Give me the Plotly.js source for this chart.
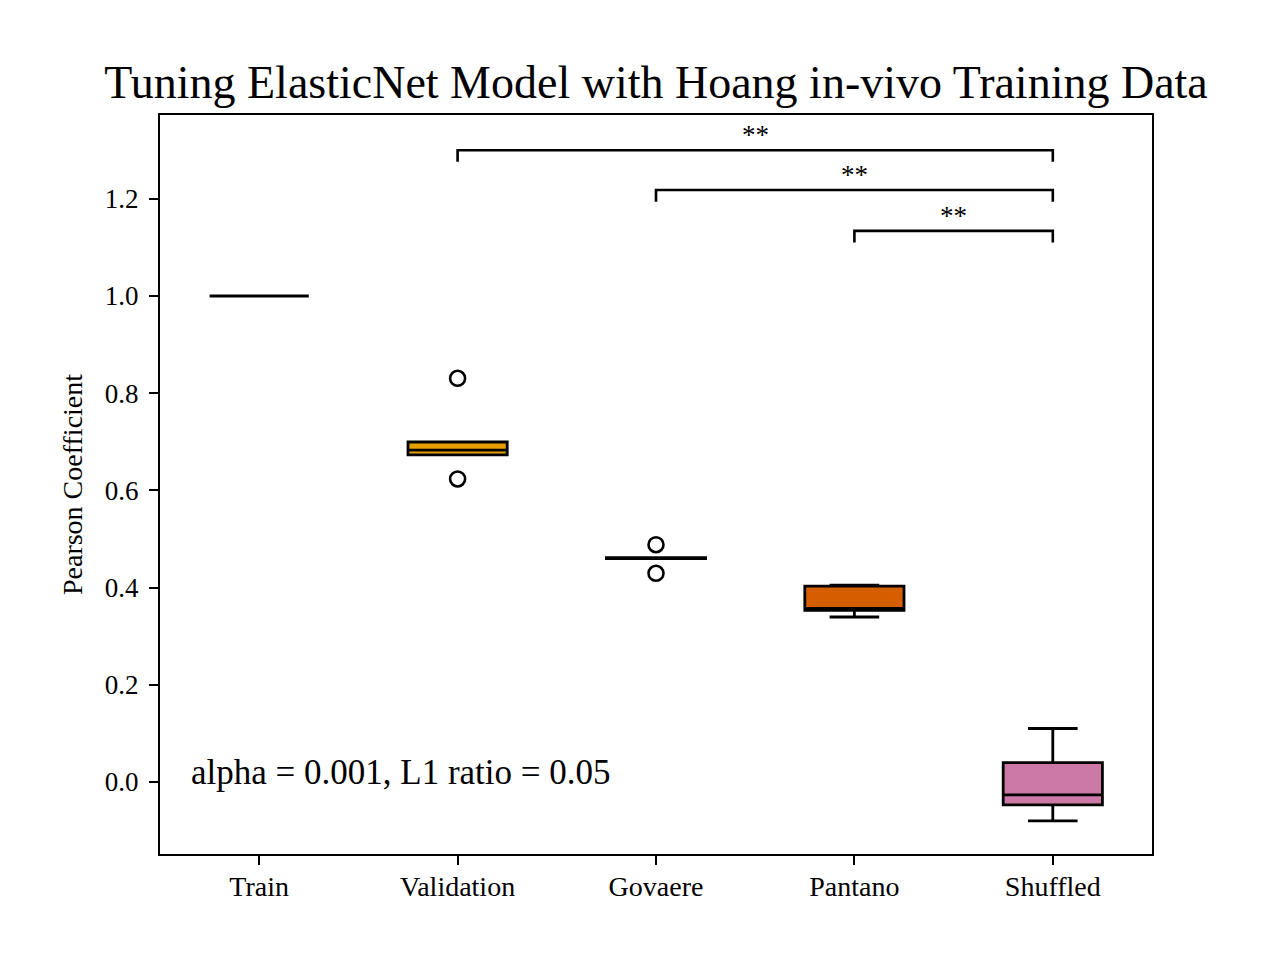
<!DOCTYPE html>
<html>
<head>
<meta charset="utf-8">
<script src="https://cdn.plot.ly/plotly-3.0.1.min.js"></script>
<style>html,body{margin:0;padding:0;background:#fff;}#chart{width:1280px;height:960px;}</style>
</head>
<body>
<div id="chart"></div>
<script>
// ---- data ----
const categories = ['Train', 'Validation', 'Govaere', 'Pantano', 'Shuffled'];
const trainScores      = [1.0, 1.0, 1.0, 1.0, 1.0];
const validationScores = [0.6235, 0.673, 0.683, 0.6996, 0.8307];
const govaereScores    = [0.4294, 0.4595, 0.4605, 0.4615, 0.4883];
const pantanoScores    = [0.3395, 0.353, 0.357, 0.403, 0.405];
const shuffledScores   = [-0.0799, -0.0470, -0.0264, 0.0397, 0.1101];
const boxColors = ['#0072B2', '#E69F00', '#009E73', '#D55E00', '#CC79A7'];

// significance brackets (category indices)
const bracketFrom  = [1, 2, 3];
const bracketTo    = [4, 4, 4];
const bracketY     = [1.300, 1.218, 1.134];
const bracketLabel = ['**', '**', '**'];

const yTickVals = [0.0, 0.2, 0.4, 0.6, 0.8, 1.0, 1.2];
const paramText = 'alpha = 0.001, L1 ratio = 0.05';

// ---- build ----
const FONT = 'Liberation Serif, Times New Roman, serif';
const allScores = [trainScores, validationScores, govaereScores, pantanoScores, shuffledScores];

const traces = categories.map((cat, i) => ({
  type: 'box',
  name: cat,
  x: allScores[i].map(() => cat),
  y: allScores[i],
  width: 0.5,
  whiskerwidth: 0.5,
  quartilemethod: 'inclusive',
  boxpoints: 'outliers',
  pointpos: 0,
  jitter: 0,
  fillcolor: boxColors[i],
  line: {color: '#000000', width: 2.8},
  marker: {symbol: 'circle-open', color: '#000000', size: 15, line: {width: 2.6, color: '#000000'}},
  hoverinfo: 'skip',
  showlegend: false
}));

const legDrop = 0.024;
const shapes = [];
const annotations = [];
bracketFrom.forEach((a, k) => {
  const b = bracketTo[k], y = bracketY[k];
  shapes.push({
    type: 'path', xref: 'x', yref: 'y',
    path: `M ${a},${y - legDrop} L ${a},${y} L ${b},${y} L ${b},${y - legDrop}`,
    line: {color: '#000000', width: 2.6}
  });
  annotations.push({
    x: (a + b) / 2, y: y, xref: 'x', yref: 'y',
    text: bracketLabel[k], showarrow: false,
    xanchor: 'center', yanchor: 'bottom', yshift: -2,
    font: {family: FONT, size: 27, color: '#000000'}
  });
});
annotations.push({
  x: 0.029, y: 0.02, xref: 'paper', yref: 'y',
  text: paramText, showarrow: false,
  xanchor: 'left', yanchor: 'middle',
  font: {family: FONT, size: 35, color: '#000000'}
});

const layout = {
  width: 1280, height: 960,
  paper_bgcolor: '#ffffff', plot_bgcolor: '#ffffff',
  margin: {l: 160, r: 128, t: 115, b: 106},
  boxmode: 'overlay',
  font: {family: FONT, color: '#000000'},
  title: {
    text: 'Tuning ElasticNet Model with Hoang in-vivo Training Data',
    font: {family: FONT, size: 46, color: '#000000'},
    x: 0.5, xref: 'paper', xanchor: 'center',
    y: 1 - 82 / 960, yref: 'container', yanchor: 'middle'
  },
  xaxis: {
    type: 'category',
    categoryorder: 'array', categoryarray: categories,
    range: [-0.5, 4.5],
    showgrid: false, zeroline: false,
    showline: true, mirror: true, linecolor: '#000000', linewidth: 2,
    ticks: 'outside', ticklen: 9, tickwidth: 2, tickcolor: '#000000',
    ticklabelstandoff: -3,
    tickfont: {family: FONT, size: 28, color: '#000000'}
  },
  yaxis: {
    range: [-0.1481, 1.3724],
    tickvals: yTickVals,
    tickformat: '.1f',
    showgrid: false, zeroline: false,
    showline: true, mirror: true, linecolor: '#000000', linewidth: 2,
    ticks: 'outside', ticklen: 9, tickwidth: 2, tickcolor: '#000000',
    ticklabelstandoff: 5,
    tickfont: {family: FONT, size: 27, color: '#000000'},
    title: {text: 'Pearson Coefficient', font: {family: FONT, size: 28, color: '#000000'}, standoff: 14}
  },
  shapes: shapes,
  annotations: annotations
};

Plotly.newPlot('chart', traces, layout, {displayModeBar: false, staticPlot: true});
</script>
</body>
</html>
